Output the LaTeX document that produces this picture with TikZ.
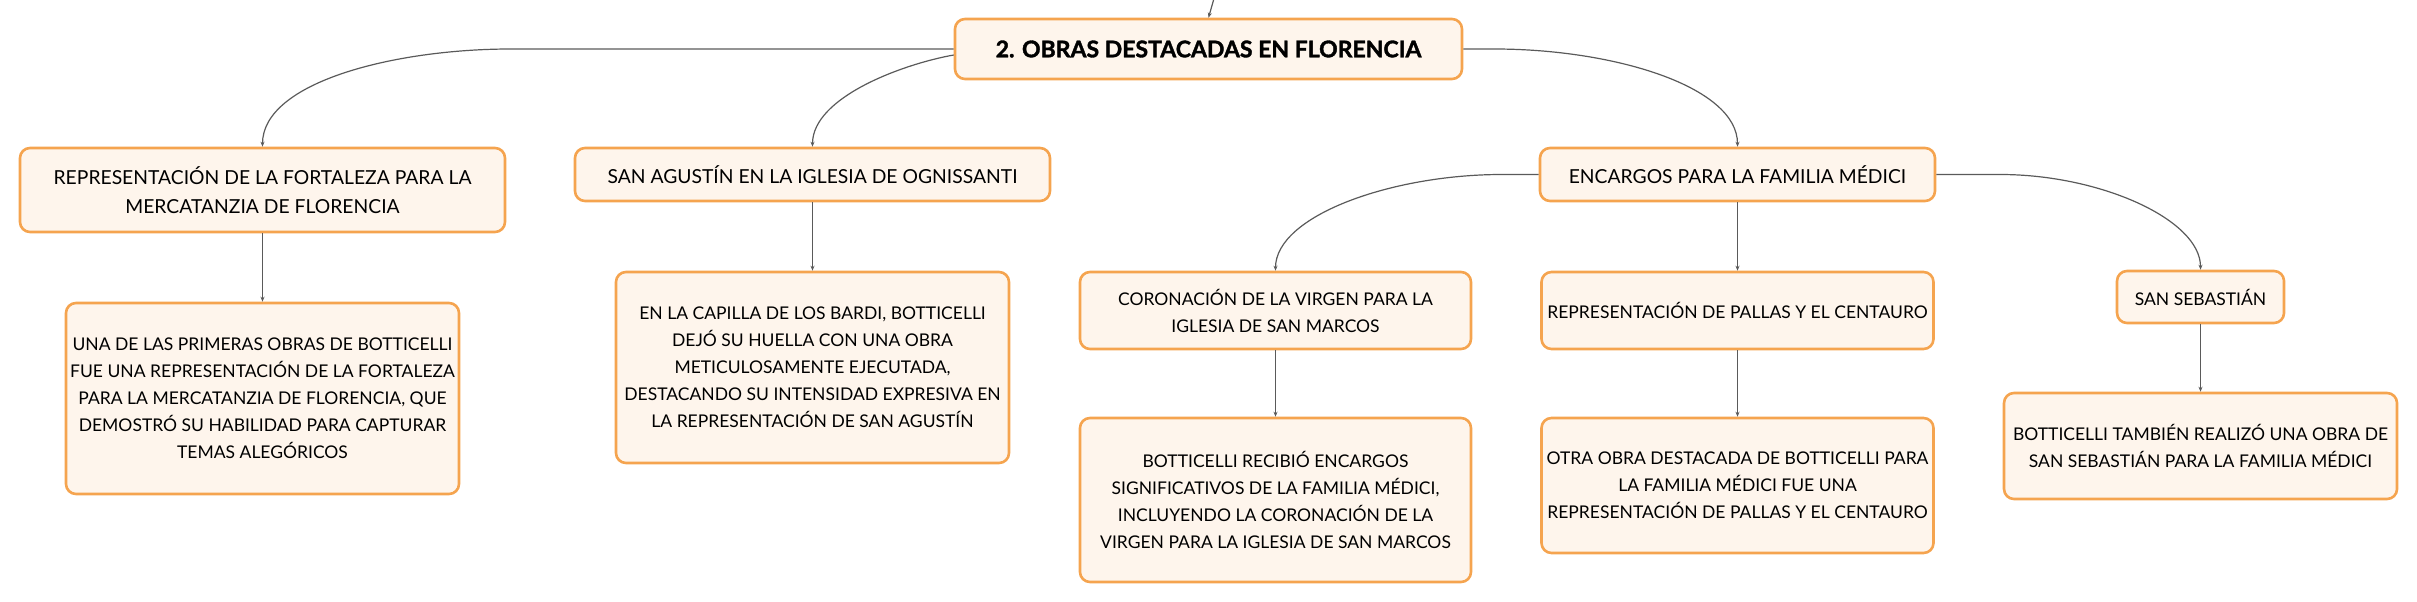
\documentclass[tikz,border=0pt]{standalone}
\usepackage{fontspec}
\setmainfont{Lato}
\newfontfamily\rootfont[BoldFeatures={FakeBold=1.6}]{Lato}
\usetikzlibrary{arrows.meta}
\definecolor{boxline}{HTML}{F5A44F}
\definecolor{boxfill}{HTML}{FEF5EC}
\definecolor{linkgray}{HTML}{5A5A5A}
\begin{document}
\begin{tikzpicture}[x=1pt, y=1pt,
  box/.style = {draw=boxline, fill=boxfill, line width=2.6pt, rounded corners=10pt, align=center, inner sep=0pt, font=\fontsize{17.5}{27}\selectfont},
  branch/.style = {box, font=\fontsize{19.3}{29}\selectfont},
  link/.style = {draw=linkgray, line width=1.2pt, -{Stealth[length=5pt,width=4pt]}}]
\useasboundingbox (0,0) rectangle (2417,-602);
\node[box, minimum width=507pt, minimum height=60pt, font=\fontsize{23}{27}\selectfont\rootfont\bfseries] (root) at (1208.5,-49) {2. OBRAS DESTACADAS EN FLORENCIA};
\node[branch, minimum width=485pt, minimum height=84pt] (rep) at (262.5,-190) {REPRESENTACIÓN DE LA FORTALEZA PARA LA\\MERCATANZIA DE FLORENCIA};
\node[box, minimum width=393pt, minimum height=191pt] (repT) at (262.5,-398.5) {UNA DE LAS PRIMERAS OBRAS DE BOTTICELLI\\FUE UNA REPRESENTACIÓN DE LA FORTALEZA\\PARA LA MERCATANZIA DE FLORENCIA, QUE\\DEMOSTRÓ SU HABILIDAD PARA CAPTURAR\\TEMAS ALEGÓRICOS};
\node[branch, minimum width=475pt, minimum height=53pt] (sag) at (812.5,-174.5) {SAN AGUSTÍN EN LA IGLESIA DE OGNISSANTI};
\node[box, minimum width=393pt, minimum height=191pt] (sagT) at (812.5,-367.5) {EN LA CAPILLA DE LOS BARDI, BOTTICELLI\\DEJÓ SU HUELLA CON UNA OBRA\\METICULOSAMENTE EJECUTADA,\\DESTACANDO SU INTENSIDAD EXPRESIVA EN\\LA REPRESENTACIÓN DE SAN AGUSTÍN};
\node[branch, minimum width=395pt, minimum height=53pt] (enc) at (1737.5,-174.5) {ENCARGOS PARA LA FAMILIA MÉDICI};
\node[box, minimum width=391pt, minimum height=77pt] (cor) at (1275.5,-310.5) {CORONACIÓN DE LA VIRGEN PARA LA\\IGLESIA DE SAN MARCOS};
\node[box, minimum width=391pt, minimum height=164pt] (corT) at (1275.5,-500) {BOTTICELLI RECIBIÓ ENCARGOS\\SIGNIFICATIVOS DE LA FAMILIA MÉDICI,\\INCLUYENDO LA CORONACIÓN DE LA\\VIRGEN PARA LA IGLESIA DE SAN MARCOS};
\node[box, minimum width=392pt, minimum height=77pt] (pal) at (1737.5,-310.5) {REPRESENTACIÓN DE PALLAS Y EL CENTAURO};
\node[box, minimum width=392pt, minimum height=135pt] (palT) at (1737.5,-485.5) {OTRA OBRA DESTACADA DE BOTTICELLI PARA\\LA FAMILIA MÉDICI FUE UNA\\REPRESENTACIÓN DE PALLAS Y EL CENTAURO};
\node[box, minimum width=167pt, minimum height=52pt] (seb) at (2200.5,-297) {SAN SEBASTIÁN};
\node[box, minimum width=393pt, minimum height=106pt] (sebT) at (2200.5,-446) {BOTTICELLI TAMBIÉN REALIZÓ UNA OBRA DE\\SAN SEBASTIÁN PARA LA FAMILIA MÉDICI};
\coordinate (feed) at (1217,12);
\draw[link] (feed) -- (root.north);
\draw[link] (root.west) -- ++(-443,0) to[out=180, in=90, out distance=115pt, in distance=65pt] (rep.north);
\draw[link] ([yshift=-6pt]root.west) to[out=190, in=90, out distance=50pt, in distance=50pt] (sag.north);
\draw[link] (root.east) -- ++(31,0) to[out=0, in=90, out distance=120pt, in distance=60pt] (enc.north);
\draw[link] (rep.south) -- (repT.north);
\draw[link] (sag.south) -- (sagT.north);
\draw[link] (enc.west) -- ++(-37,0) to[out=180, in=90, out distance=110pt, in distance=55pt] (cor.north);
\draw[link] (enc.south) -- (pal.north);
\draw[link] (enc.east) -- ++(64,0) to[out=0, in=90, out distance=100pt, in distance=50pt] (seb.north);
\draw[link] (cor.south) -- (corT.north);
\draw[link] (pal.south) -- (palT.north);
\draw[link] (seb.south) -- (sebT.north);
\end{tikzpicture}
\end{document}
